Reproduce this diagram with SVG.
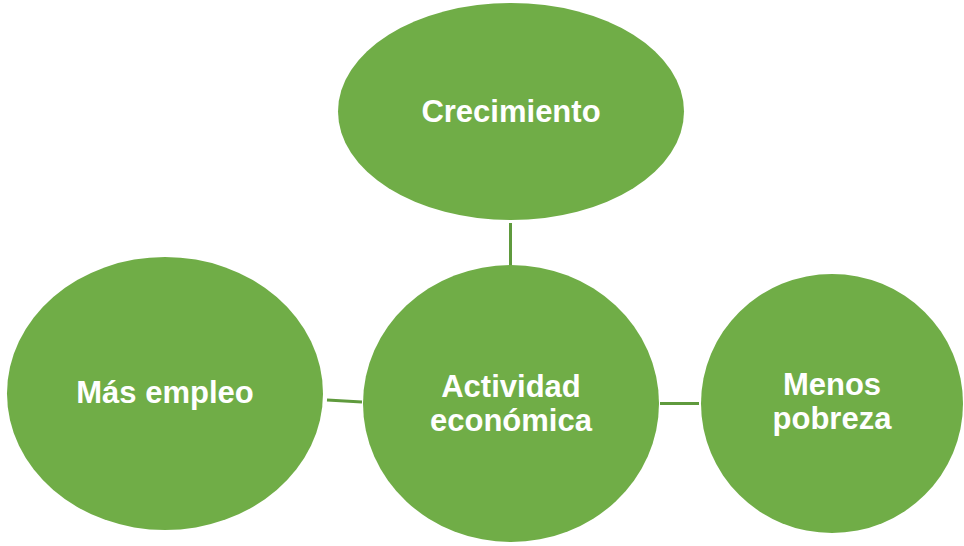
<svg xmlns="http://www.w3.org/2000/svg" width="964" height="546" viewBox="0 0 964 546">
<style>
.n{fill:#70AD47;}
.t{fill:#FFFFFF;font-family:"Liberation Sans",Arial,sans-serif;font-weight:bold;font-size:31px;text-anchor:middle;}
.c{stroke:#5F9A3D;stroke-width:3;fill:none;}
</style>
<rect width="964" height="546" fill="#FFFFFF"/>
<g id="connectors">
<line class="c" x1="510.5" y1="223" x2="510.5" y2="266"/>
<line class="c" x1="327" y1="400" x2="362" y2="402"/>
<line class="c" x1="660" y1="403.5" x2="699" y2="403.5"/>
</g>
<g id="crecimiento">
<ellipse class="n" cx="511" cy="111.5" rx="173" ry="108.5"/>
<text class="t" x="511" y="122">Crecimiento</text>
</g>
<g id="mas-empleo">
<ellipse class="n" cx="165" cy="393.5" rx="158" ry="136.5"/>
<text class="t" x="165" y="403">Más empleo</text>
</g>
<g id="actividad">
<ellipse class="n" cx="511" cy="403.5" rx="148" ry="138.5"/>
<text class="t" x="511" y="397">Actividad</text>
<text class="t" x="511" y="431">económica</text>
</g>
<g id="menos-pobreza">
<ellipse class="n" cx="832" cy="403.5" rx="131" ry="129.5"/>
<text class="t" x="832" y="395">Menos</text>
<text class="t" x="832" y="429">pobreza</text>
</g>
</svg>
